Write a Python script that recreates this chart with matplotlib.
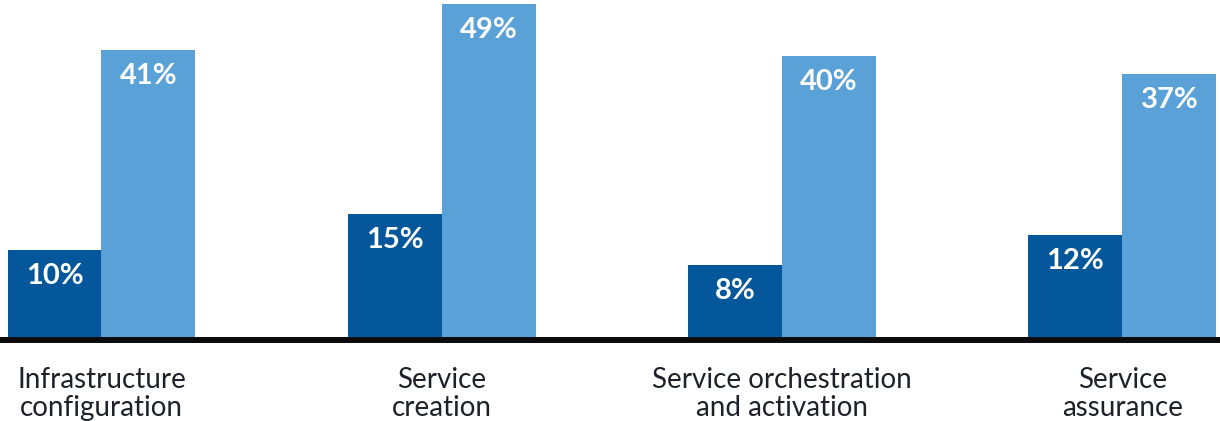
import numpy as np
import matplotlib
matplotlib.use("Agg")
import matplotlib.pyplot as plt
from matplotlib.lines import Line2D

# ---- data ----
categories = ["Infrastructure\nconfiguration", "Service\ncreation",
              "Service orchestration\nand activation", "Service\nassurance"]
dark_values = [10, 15, 8, 12]
light_values = [41, 49, 40, 37]

# ---- style ----
DARK = "#03579a"
LIGHT = "#5aa1d8"
TEXT = "#1e2129"
W, H, DPI = 1220, 421, 100
P = 0.843  # bar-length scale exponent seen in the original

fig = plt.figure(figsize=(W / DPI, H / DPI), dpi=DPI)
fig.patch.set_facecolor("white")
ax = fig.add_axes([0, 84 / H, 1, 337 / H])
ax.set_yscale("function", functions=(lambda v: np.power(np.clip(v, 0, None), P),
                                     lambda v: np.power(np.clip(v, 0, None), 1 / P)))

x = np.arange(len(categories))
bw = 0.276
b1 = ax.bar(x - bw / 2, dark_values, width=bw, color=DARK, linewidth=0)
b2 = ax.bar(x + bw / 2, light_values, width=bw, color=LIGHT, linewidth=0)

for bars, vals in ((b1, dark_values), (b2, light_values)):
    for r, v in zip(bars, vals):
        ax.annotate(f"{v}%", xy=(r.get_x() + r.get_width() / 2, v),
                    xytext=(0, -34), textcoords="offset pixels",
                    ha="center", va="baseline", color="white",
                    fontsize=21, fontweight="bold", family=["Lato", "DejaVu Sans"])

for xi, lab in zip(x, categories):
    ax.annotate(lab, xy=(xi, 0), xytext=(0, -79), textcoords="offset pixels",
                ha="center", va="baseline", multialignment="center",
                color=TEXT, fontsize=20, family=["Lato", "DejaVu Sans"],
                linespacing=1.1, annotation_clip=False)

ax.set_xlim(-101.5 / 340.3, (W - 101.5) / 340.3)
ax.set_ylim(0, 49.7)
ax.axis("off")

fig.add_artist(Line2D([0, 1], [(H - 340) / H] * 2, transform=fig.transFigure,
                      lw=4.3, color="#0b0b0e", solid_capstyle="butt"))

fig.savefig("out.png", dpi=DPI, facecolor="white")
